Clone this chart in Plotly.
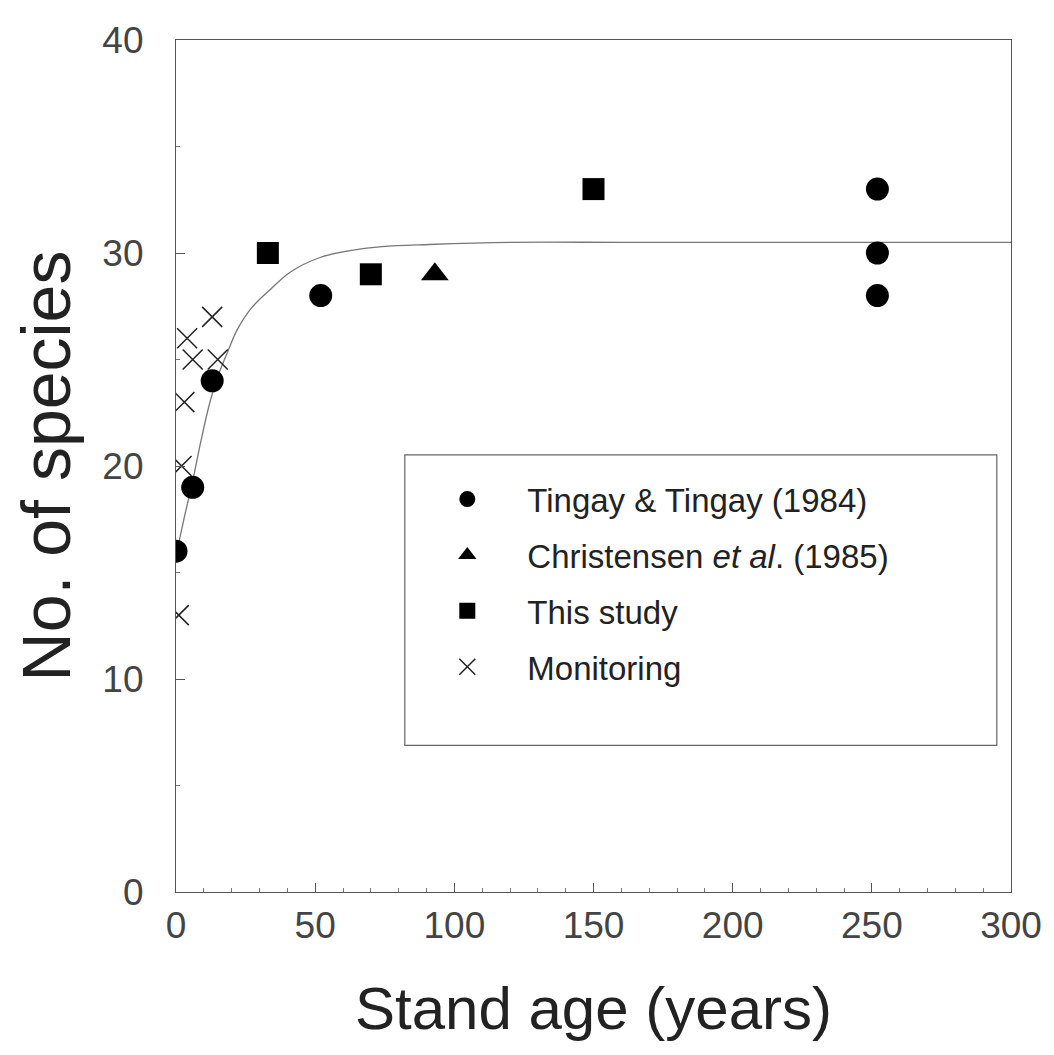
import plotly.graph_objects as go

# ---- data ----
tingay_x = [0, 6, 13, 52, 252, 252, 252]
tingay_y = [16, 19, 24, 28, 33, 30, 28]

christensen_x = [93]
christensen_y = [29]

study_x = [33, 70, 150]
study_y = [30, 29, 33]

monitor_x = [1, 2, 3, 4, 6, 13, 15]
monitor_y = [13, 20, 23, 26, 25, 27, 25]

curve_x = [0, 3, 6, 9, 12, 15, 19, 22, 27, 34, 41, 52, 62, 74, 91, 120, 160, 200, 250, 300]
curve_y = [15.8, 17.6, 19.3, 21.2, 22.9, 24.2, 25.5, 26.4, 27.4, 28.3, 29.1, 29.8, 30.1,
           30.3, 30.4, 30.5, 30.5, 30.5, 30.5, 30.5]

x_ticks = [0, 50, 100, 150, 200, 250, 300]
y_ticks = [0, 10, 20, 30, 40]

FONT = "Liberation Sans, Arial, Helvetica, sans-serif"

fig = go.Figure()

fig.add_trace(go.Scatter(x=curve_x, y=curve_y, mode="lines",
                         line=dict(color="#777777", width=1.3, shape="spline"),
                         showlegend=False, hoverinfo="skip"))

fig.add_trace(go.Scatter(x=tingay_x, y=tingay_y, mode="markers", name="Tingay &amp; Tingay (1984)",
                         legendgroup="a",
                         marker=dict(symbol="circle", size=23, color="black")))
fig.add_trace(go.Scatter(x=christensen_x, y=christensen_y, mode="markers",
                         name="Christensen <i>et al</i>. (1985)", legendgroup="b",
                         marker=dict(symbol="triangle-up", size=24, color="black")))
fig.add_trace(go.Scatter(x=study_x, y=study_y, mode="markers", name="This study", legendgroup="c",
                         marker=dict(symbol="square", size=22, color="black")))
fig.add_trace(go.Scatter(x=monitor_x, y=monitor_y, mode="markers", name="Monitoring", legendgroup="d",
                         marker=dict(symbol="x-thin", size=20, color="black",
                                     line=dict(color="#222222", width=1.5))))

# legend frame
fig.add_shape(type="rect", xref="paper", yref="paper", x0=0.274, x1=0.983, y0=0.172, y1=0.513,
              line=dict(color="#666666", width=1.2), fillcolor="rgba(0,0,0,0)", layer="below")

fig.update_layout(
    width=1046, height=1047,
    margin=dict(l=168, r=40, t=30, b=163),
    paper_bgcolor="white", plot_bgcolor="white",
    showlegend=True,
    legend=dict(x=0.277, y=0.494, xanchor="left", yanchor="top",
                bgcolor="rgba(0,0,0,0)", borderwidth=0,
                font=dict(family=FONT, size=33, color="#222222"),
                itemwidth=110, traceorder="grouped", tracegroupgap=10),
    xaxis=dict(range=[0, 300], tickvals=x_ticks, ticktext=[str(v) for v in x_ticks],
               ticks="inside", ticklen=9, tickcolor="#555555", tickwidth=1,
               minor=dict(dtick=10, ticks="inside", ticklen=4, tickcolor="#777777"),
               showline=True, mirror=True, linecolor="#555555", linewidth=1.2,
               showgrid=False, zeroline=False,
               tickfont=dict(family=FONT, size=37, color="#444444"),
               title=dict(text="Stand age (years)", standoff=42,
                          font=dict(family=FONT, size=60, color="#222222"))),
    yaxis=dict(range=[0, 40], tickvals=y_ticks, ticktext=[str(v) for v in y_ticks],
               ticks="inside", ticklen=9, tickcolor="#555555", tickwidth=1,
               minor=dict(dtick=5, ticks="inside", ticklen=4, tickcolor="#777777"),
               showline=True, mirror=True, linecolor="#555555", linewidth=1.2,
               showgrid=False, zeroline=False, ticklabelstandoff=24,
               tickfont=dict(family=FONT, size=37, color="#444444"),
               title=dict(text="No. of species", standoff=34,
                          font=dict(family=FONT, size=68, color="#222222"))),
)

fig.write_html("out.html")
